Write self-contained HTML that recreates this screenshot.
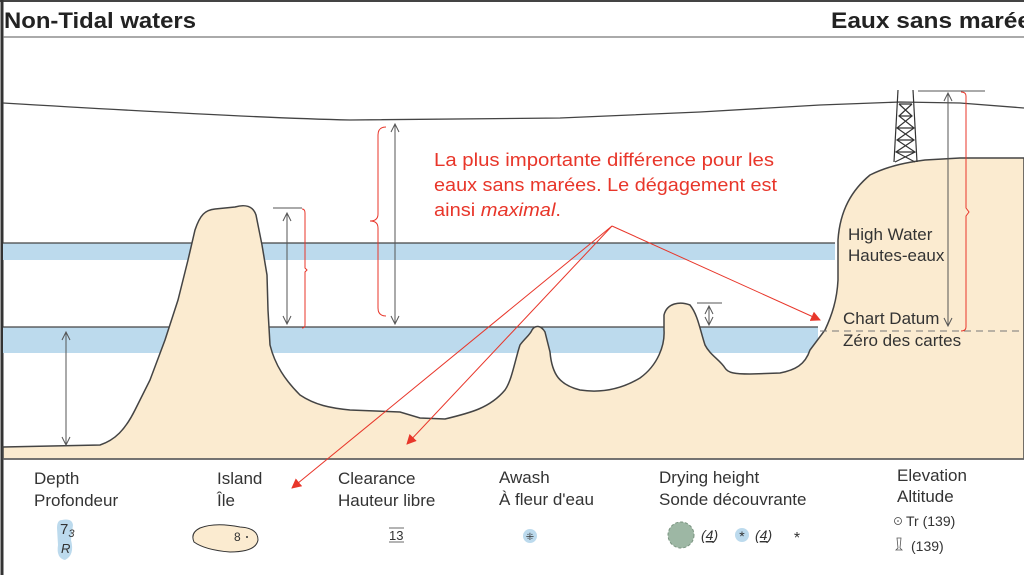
<!DOCTYPE html>
<html><head><meta charset="utf-8"><style>
body{margin:0;width:1024px;height:575px;overflow:hidden;background:#fff;font-family:"Liberation Sans",sans-serif}
svg{position:absolute;left:0;top:0}
</style></head><body>
<svg width="1024" height="575" viewBox="0 0 1024 575" font-family="Liberation Sans, sans-serif">
<defs>
<marker id="ar" markerWidth="10" markerHeight="10" refX="9" refY="5" orient="auto"><path d="M0,0 L10,5 L0,10 z" fill="#e8362a"/></marker>
<marker id="g" markerWidth="10" markerHeight="10" refX="9" refY="5" orient="auto-start-reverse"><path d="M1,1 L9,5 L1,9" fill="none" stroke="#555" stroke-width="1"/></marker>
</defs>
<line x1="0" y1="1" x2="1024" y2="1" stroke="#444" stroke-width="2"/>
<line x1="2" y1="0" x2="2" y2="575" stroke="#333" stroke-width="3"/>
<line x1="3" y1="37" x2="1024" y2="37" stroke="#777" stroke-width="1.2"/>
<text x="4" y="28" font-size="22" font-weight="bold" fill="#222" textLength="192" lengthAdjust="spacingAndGlyphs">Non-Tidal waters</text>
<text x="831" y="28" font-size="22" font-weight="bold" fill="#222" textLength="200" lengthAdjust="spacingAndGlyphs">Eaux sans marée</text>
<rect x="3" y="243" width="832" height="17" fill="#bcdaed"/>
<rect x="3" y="327" width="815" height="26" fill="#bcdaed"/>
<line x1="3" y1="243" x2="835" y2="243" stroke="#444" stroke-width="1.3"/>
<line x1="3" y1="327" x2="818" y2="327" stroke="#444" stroke-width="1.3"/>
<path d="M3,103 C120,110 260,118 350,120 L560,118 L700,112 L820,105 L900,102 L960,103 L1024,108" fill="none" stroke="#444" stroke-width="1.3"/>
<path d="M3,447 L100,445 C115,440 125,430 135,410 L150,380 L165,340 L178,300 L188,260 L195,230 C200,215 205,210 215,209 L235,207 C245,204 253,206 256,215 L262,245 L267,275 L268,310 L270,345 C275,365 285,380 300,395 C315,405 330,408 350,410 L400,412 L420,418 L445,419 C470,413 490,408 505,390 C512,380 515,360 520,345 C525,338 530,335 532,330 C535,325 541,325 545,332 L550,352 C552,375 560,385 580,390 C600,393 620,390 640,378 C658,365 665,345 664,330 L664,315 C667,303 680,301 690,305 C698,315 700,330 705,345 C710,355 720,360 725,368 C728,373 735,374 750,374 L780,373 C795,370 805,365 810,350 L825,330 C832,315 837,300 838,280 L838,240 C840,210 852,190 870,175 C890,165 910,162 925,160 L960,158 L1024,158 L1024,459 L3,459 Z" fill="#fbebd0" stroke="#444" stroke-width="1.5"/>
<line x1="3" y1="459" x2="1024" y2="459" stroke="#666" stroke-width="1.5"/>
<line x1="820" y1="331" x2="1024" y2="331" stroke="#777" stroke-width="1" stroke-dasharray="7,5"/>
<g stroke="#333" stroke-width="1.2" fill="none">
<line x1="898" y1="90" x2="894" y2="162"/><line x1="913" y1="90" x2="917" y2="162"/>
<path d="M899,104 L912,116 L897,128 L914,140 L896,152 L915,162 M912,104 L899,116 L914,128 L897,140 L915,152 L895,162 M899,104 H912 M899,116 H912 M897,128 H914 M897,140 H914 M896,152 H915"/>
</g>
<g stroke="#555" stroke-width="1" fill="none">
<line x1="66" y1="332" x2="66" y2="445" marker-start="url(#g)" marker-end="url(#g)"/>
<line x1="273" y1="208" x2="302" y2="208"/>
<line x1="287" y1="213" x2="287" y2="324" marker-start="url(#g)" marker-end="url(#g)"/>
<line x1="395" y1="124" x2="395" y2="324" marker-start="url(#g)" marker-end="url(#g)"/>
<line x1="697" y1="303" x2="722" y2="303"/>
<line x1="709" y1="306" x2="709" y2="325" marker-start="url(#g)" marker-end="url(#g)"/>
<line x1="918" y1="91" x2="985" y2="91"/>
<line x1="948" y1="93" x2="948" y2="326" marker-start="url(#g)" marker-end="url(#g)"/>
</g>
<g stroke="#e8362a" stroke-width="1" fill="none">
<path d="M302,209 Q305,209 305,213 L305,268 L307,270 L305,272 L305,325 Q305,328 302,328"/>
<path d="M386,127 Q378,127 378,135 L378,214 Q378,221 370,221 Q378,221 378,228 L378,308 Q378,316 386,316"/>
<path d="M961,92 Q966,92 966,96 L966,208 L969,212 L966,216 L966,327 Q966,331 961,331"/>
<line x1="612" y1="226" x2="292" y2="488" marker-end="url(#ar)"/>
<line x1="612" y1="226" x2="407" y2="444" marker-end="url(#ar)"/>
<line x1="612" y1="226" x2="820" y2="320" marker-end="url(#ar)"/>
</g>
<g font-size="18" fill="#e8362a">
<text x="434" y="166" textLength="340" lengthAdjust="spacingAndGlyphs">La plus importante différence pour les</text>
<text x="434" y="191" textLength="343" lengthAdjust="spacingAndGlyphs">eaux sans marées. Le dégagement est</text>
<text x="434" y="216" textLength="127" lengthAdjust="spacingAndGlyphs">ainsi <tspan font-style="italic">maximal</tspan>.</text>
</g>
<g font-size="17" fill="#333">
<text x="848" y="240">High Water</text><text x="848" y="261">Hautes-eaux</text>
<text x="843" y="324">Chart Datum</text><text x="843" y="346">Zéro des cartes</text>
<text x="34" y="484">Depth</text><text x="34" y="506">Profondeur</text>
<text x="217" y="484">Island</text><text x="217" y="506">Île</text>
<text x="338" y="484">Clearance</text><text x="338" y="506">Hauteur libre</text>
<text x="499" y="483">Awash</text><text x="499" y="505">À fleur d'eau</text>
<text x="659" y="483">Drying height</text><text x="659" y="505">Sonde découvrante</text>
<text x="897" y="481">Elevation</text><text x="897" y="502">Altitude</text>
</g>
<path d="M62,520 Q72,518 73,525 L71,540 Q75,555 65,560 Q56,558 58,545 L57,528 Q57,520 62,520Z" fill="#bcdaed"/>
<text x="60" y="534" font-size="15" fill="#333">7<tspan font-size="11" dy="3" font-style="italic">3</tspan></text>
<text x="61" y="553" font-size="13" font-style="italic" fill="#333">R</text>
<path d="M200,528 Q215,522 240,527 Q258,528 258,540 Q256,552 230,552 Q205,550 194,542 Q190,533 200,528Z" fill="#fbebd0" stroke="#333" stroke-width="1"/>
<text x="234" y="541" font-size="12" fill="#333">8</text><circle cx="247" cy="537" r="1" fill="#333"/>
<line x1="389" y1="528" x2="404" y2="528" stroke="#444" stroke-width="0.8"/>
<line x1="389" y1="542" x2="404" y2="542" stroke="#444" stroke-width="0.8"/>
<text x="389" y="540" font-size="13" fill="#333">13</text>
<circle cx="530" cy="536" r="7" fill="#bcdaed"/><text x="530" y="540" font-size="10" fill="#333" text-anchor="middle">⁜</text>
<circle cx="681" cy="535" r="13" fill="#9db7a4" stroke="#7a9480" stroke-dasharray="3,2"/>
<text x="701" y="540" font-size="14" font-style="italic" fill="#333">(<tspan text-decoration="underline">4</tspan>)</text>
<circle cx="742" cy="535" r="7" fill="#bcdaed"/><text x="742" y="541" font-size="14" fill="#333" text-anchor="middle">*</text>
<text x="755" y="540" font-size="14" font-style="italic" fill="#333">(<tspan text-decoration="underline">4</tspan>)</text>
<text x="797" y="543" font-size="16" fill="#333" text-anchor="middle">*</text>
<circle cx="898" cy="521" r="3.5" fill="none" stroke="#444" stroke-width="0.8"/><circle cx="898" cy="521" r="0.8" fill="#444"/>
<text x="906" y="526" font-size="14" fill="#333">Tr  (139)</text>
<path d="M897,538 L901,538 L900,548 L902,550 L896,550 L898,548 Z" fill="none" stroke="#555" stroke-width="0.8"/>
<text x="911" y="551" font-size="14" fill="#333">(139)</text>
</svg>
</body></html>
